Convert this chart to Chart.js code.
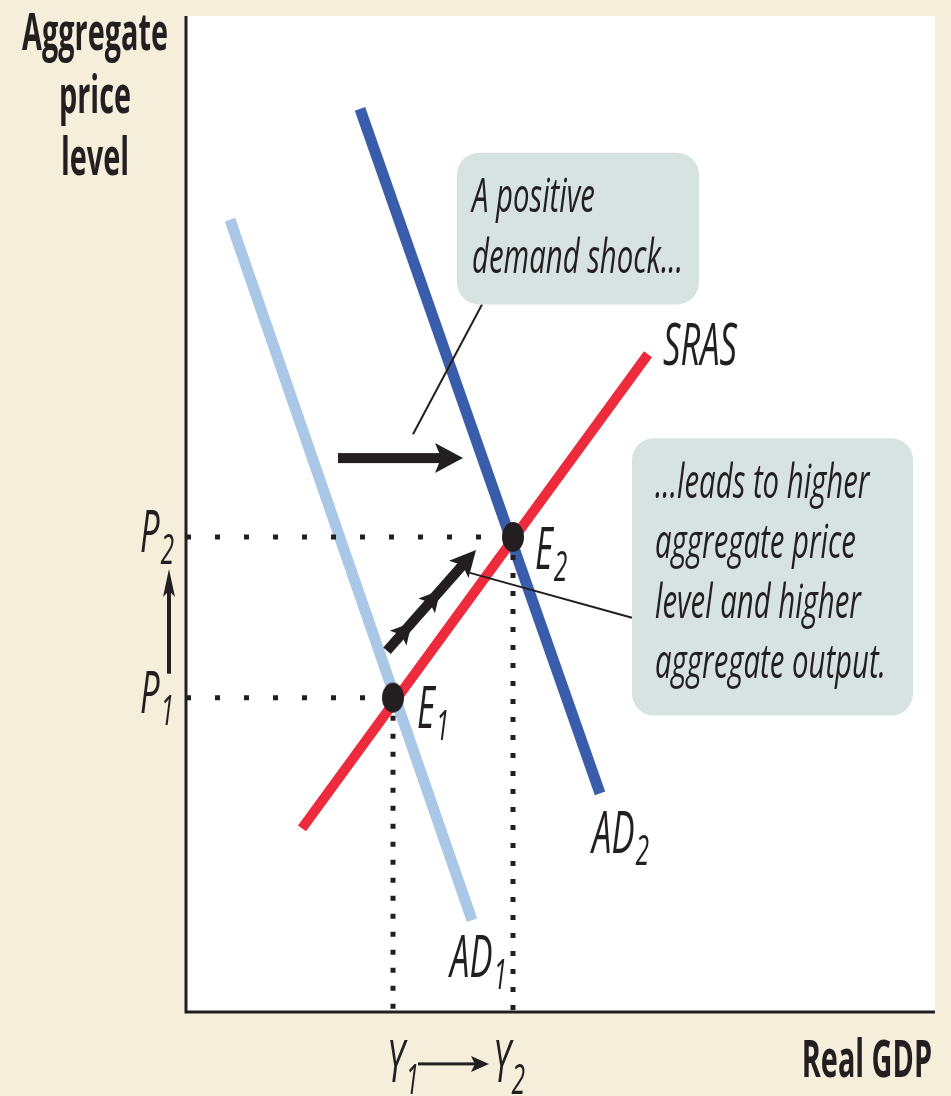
<!DOCTYPE html>
<html>
<head>
<meta charset="utf-8">
<title>AD shift</title>
<script src="https://cdn.jsdelivr.net/npm/chart.js@4.4.0/dist/chart.umd.min.js"></script>
<style>
  html, body { margin: 0; padding: 0; background: #f5eedb; }
  canvas { display: block; }
</style>
</head>
<body>
<canvas id="adChart" width="951" height="1096"></canvas>
<script>
// ---- data (quantity on x, price level on y, arbitrary units) ----
const AD1_X  = [44, 286];   const AD1_Y  = [794, 92];
const AD2_X  = [174, 414];  const AD2_Y  = [905, 219];
const SRAS_X = [116, 462];  const SRAS_Y = [184, 659];
const EQ_X   = [207, 327];  // Y1, Y2
const EQ_Y   = [315, 476];  // P1, P2
const EQ_NAMES = ['1', '2'];

// ---- annotation geometry, in the same data units ----
const notes = {
  shift:   { x: [152, 277], y: [555, 555] },
  move:    { x: [201, 290], y: [362, 463] },
  pUp:     { x: [-17, -17], y: [339, 444] },
  yRight:  { x: [232, 303], y: [-52, -52] },
  leader1: { x: [296, 227], y: [709, 579] },
  leader2: { x: [446, 284], y: [395, 440] },
  box1: { x0: 271, x1: 513, y0: 861, y1: 709,
          lines: ['A positive', 'demand shock...'], tx: 286, ty: [802, 740] },
  box2: { x0: 446, x1: 727, y0: 575, y1: 297,
          lines: ['...leads to higher', 'aggregate price', 'level and higher', 'aggregate output.'],
          tx: 469, ty: [515, 455, 395, 335] }
};

const labels = [
  { main: 'SRAS', sub: '',  x: 477, y: 648 },
  { main: 'E',    sub: '2', x: 349, y: 444 },
  { main: 'E',    sub: '1', x: 231, y: 285 },
  { main: 'AD',   sub: '2', x: 406, y: 159 },
  { main: 'AD',   sub: '1', x: 264, y: 35 },
  { main: 'P',    sub: '2', x: -46, y: 461 },
  { main: 'P',    sub: '1', x: -46, y: 300 },
  { main: 'Y',    sub: '1', x: 201, y: -70 },
  { main: 'Y',    sub: '2', x: 307, y: -70 }
];

const INK = '#231f20';
const FONT = '"Open Sans", "DejaVu Sans", sans-serif';

function seg(xs, ys) { return xs.map((x, i) => ({ x: x, y: ys[i] })); }

// ellipse marker for equilibria
const dot = document.createElement('canvas');
dot.width = 24; dot.height = 32;
(function () {
  const c = dot.getContext('2d');
  c.fillStyle = INK;
  c.beginPath();
  c.ellipse(12, 16, 11, 15, 0, 0, Math.PI * 2);
  c.fill();
})();

function arrowHead(ctx, len, half) {
  ctx.beginPath();
  ctx.moveTo(0, 0);
  ctx.lineTo(-len, -half);
  ctx.lineTo(-len * 0.78, 0);
  ctx.lineTo(-len, half);
  ctx.closePath();
  ctx.fill();
}

function arrow(ctx, x1, y1, x2, y2, shaft, len, half, barbs) {
  const L = Math.hypot(x2 - x1, y2 - y1);
  ctx.save();
  ctx.translate(x2, y2);
  ctx.rotate(Math.atan2(y2 - y1, x2 - x1));
  ctx.fillRect(-L, -shaft / 2, L - len * 0.7, shaft);
  arrowHead(ctx, len, half);
  (barbs || []).forEach(t => {
    ctx.save();
    ctx.translate(-L * t, 0);
    arrowHead(ctx, len * 0.8, half * 0.85);
    ctx.restore();
  });
  ctx.restore();
}

function roundBox(ctx, x, y, w, h, r) {
  ctx.beginPath();
  ctx.moveTo(x + r, y);
  ctx.arcTo(x + w, y, x + w, y + h, r);
  ctx.arcTo(x + w, y + h, x, y + h, r);
  ctx.arcTo(x, y + h, x, y, r);
  ctx.arcTo(x, y, x + w, y, r);
  ctx.closePath();
  ctx.fill();
}

function condensed(ctx, text, x, y, font, sx, align) {
  ctx.save();
  ctx.font = font;
  const w = ctx.measureText(text).width * sx;
  let left = x;
  if (align === 'center') left = x - w / 2;
  if (align === 'right') left = x - w;
  ctx.translate(left, y);
  ctx.scale(sx, 1);
  ctx.fillText(text, 0, 0);
  ctx.restore();
  return w;
}

const decor = {
  id: 'decor',
  beforeDraw(chart) {
    const { ctx, chartArea: a } = chart;
    ctx.save();
    ctx.fillStyle = '#f5eedb';
    ctx.fillRect(0, 0, chart.width, chart.height);
    ctx.fillStyle = '#ffffff';
    ctx.fillRect(a.left, a.top, a.right - a.left, a.bottom - a.top);
    ctx.restore();
  },
  afterDatasetsDraw(chart) {
    const { ctx, chartArea: a } = chart;
    const sx = chart.scales.x, sy = chart.scales.y;
    const px = v => sx.getPixelForValue(v);
    const py = v => sy.getPixelForValue(v);

    ctx.save();
    // axes
    ctx.strokeStyle = INK;
    ctx.lineWidth = 3;
    ctx.beginPath();
    ctx.moveTo(a.left, a.top);
    ctx.lineTo(a.left, a.bottom);
    ctx.lineTo(a.right, a.bottom);
    ctx.stroke();

    // leader lines
    ctx.lineWidth = 2;
    [notes.leader1, notes.leader2].forEach(l => {
      ctx.beginPath();
      ctx.moveTo(px(l.x[0]), py(l.y[0]));
      ctx.lineTo(px(l.x[1]), py(l.y[1]));
      ctx.stroke();
    });

    // arrows
    ctx.fillStyle = INK;
    const s = notes.shift, m = notes.move, p = notes.pUp, q = notes.yRight;
    arrow(ctx, px(s.x[0]), py(s.y[0]), px(s.x[1]), py(s.y[1]), 10, 28, 15);
    arrow(ctx, px(m.x[0]), py(m.y[0]), px(m.x[1]), py(m.y[1]), 10, 26, 13, [0.4, 0.72]);
    arrow(ctx, px(p.x[0]), py(p.y[0]), px(p.x[1]), py(p.y[1]), 4, 28, 6);
    arrow(ctx, px(q.x[0]), py(q.y[0]), px(q.x[1]), py(q.y[1]), 3, 18, 8);

    // text scale factors, fitted to the original's narrow face
    const boxFont = `italic 48px ${FONT}`;
    ctx.font = boxFont;
    const boxSx = 211 / ctx.measureText('demand shock...').width;
    const lblSize = 59;
    ctx.font = `italic ${lblSize}px ${FONT}`;
    const lblSx = 74 / ctx.measureText('SRAS').width;
    const boldFont = `bold 52px ${FONT}`;
    ctx.font = boldFont;
    const boldSx = 146 / ctx.measureText('Aggregate').width;

    // callout boxes
    [notes.box1, notes.box2].forEach(b => {
      ctx.fillStyle = '#d7e3e0';
      roundBox(ctx, px(b.x0), py(b.y0), px(b.x1) - px(b.x0), py(b.y1) - py(b.y0), 22);
      ctx.fillStyle = INK;
      b.lines.forEach((t, i) => condensed(ctx, t, px(b.tx), py(b.ty[i]), boxFont, boxSx, 'left'));
    });

    // curve / point labels
    ctx.fillStyle = INK;
    labels.forEach(l => {
      const x = px(l.x), y = py(l.y);
      const w = condensed(ctx, l.main, x, y, `italic ${lblSize}px ${FONT}`, lblSx, 'left');
      if (l.sub) condensed(ctx, l.sub, x + w + 1, y + 12, `italic 42px ${FONT}`, lblSx, 'left');
    });

    // axis titles
    ['Aggregate', 'price', 'level'].forEach((t, i) =>
      condensed(ctx, t, 95, 50 + i * 62.5, boldFont, boldSx, 'center'));
    condensed(ctx, 'Real GDP', 932, 1077, boldFont, boldSx, 'right');
    ctx.restore();
  }
};

const guides = [];
EQ_X.forEach((x, i) => {
  guides.push({ data: seg([0, x], [EQ_Y[i], EQ_Y[i]]), borderDash: [5, 24] });
  guides.push({ data: seg([x, x], [EQ_Y[i], 0]), borderDash: [5, 13] });
});

new Chart(document.getElementById('adChart'), {
  type: 'scatter',
  data: {
    datasets: [
      { label: 'Equilibria', data: seg(EQ_X, EQ_Y), pointStyle: dot, pointRadius: 15, showLine: false, order: 0 },
      ...guides.map((g, i) => ({
        label: 'guide' + i, data: g.data, showLine: true, borderColor: INK, borderWidth: 5,
        borderDash: g.borderDash, pointRadius: 0, order: 1
      })),
      { label: 'AD2', data: seg(AD2_X, AD2_Y), showLine: true, borderColor: '#3a5dab', borderWidth: 11, pointRadius: 0, order: 2 },
      { label: 'AD1', data: seg(AD1_X, AD1_Y), showLine: true, borderColor: '#abc7e8', borderWidth: 11, pointRadius: 0, order: 3 },
      { label: 'SRAS', data: seg(SRAS_X, SRAS_Y), showLine: true, borderColor: '#ee2b3c', borderWidth: 10, pointRadius: 0, order: 4 }
    ]
  },
  options: {
    responsive: false,
    devicePixelRatio: 1,
    animation: false,
    layout: { padding: { left: 186, right: 16, top: 14, bottom: 84 } },
    plugins: { legend: { display: false }, tooltip: { enabled: false } },
    scales: {
      x: { type: 'linear', min: 0, max: 749, display: false },
      y: { type: 'linear', min: 0, max: 998, display: false }
    }
  },
  plugins: [decor]
});
</script>
</body>
</html>
